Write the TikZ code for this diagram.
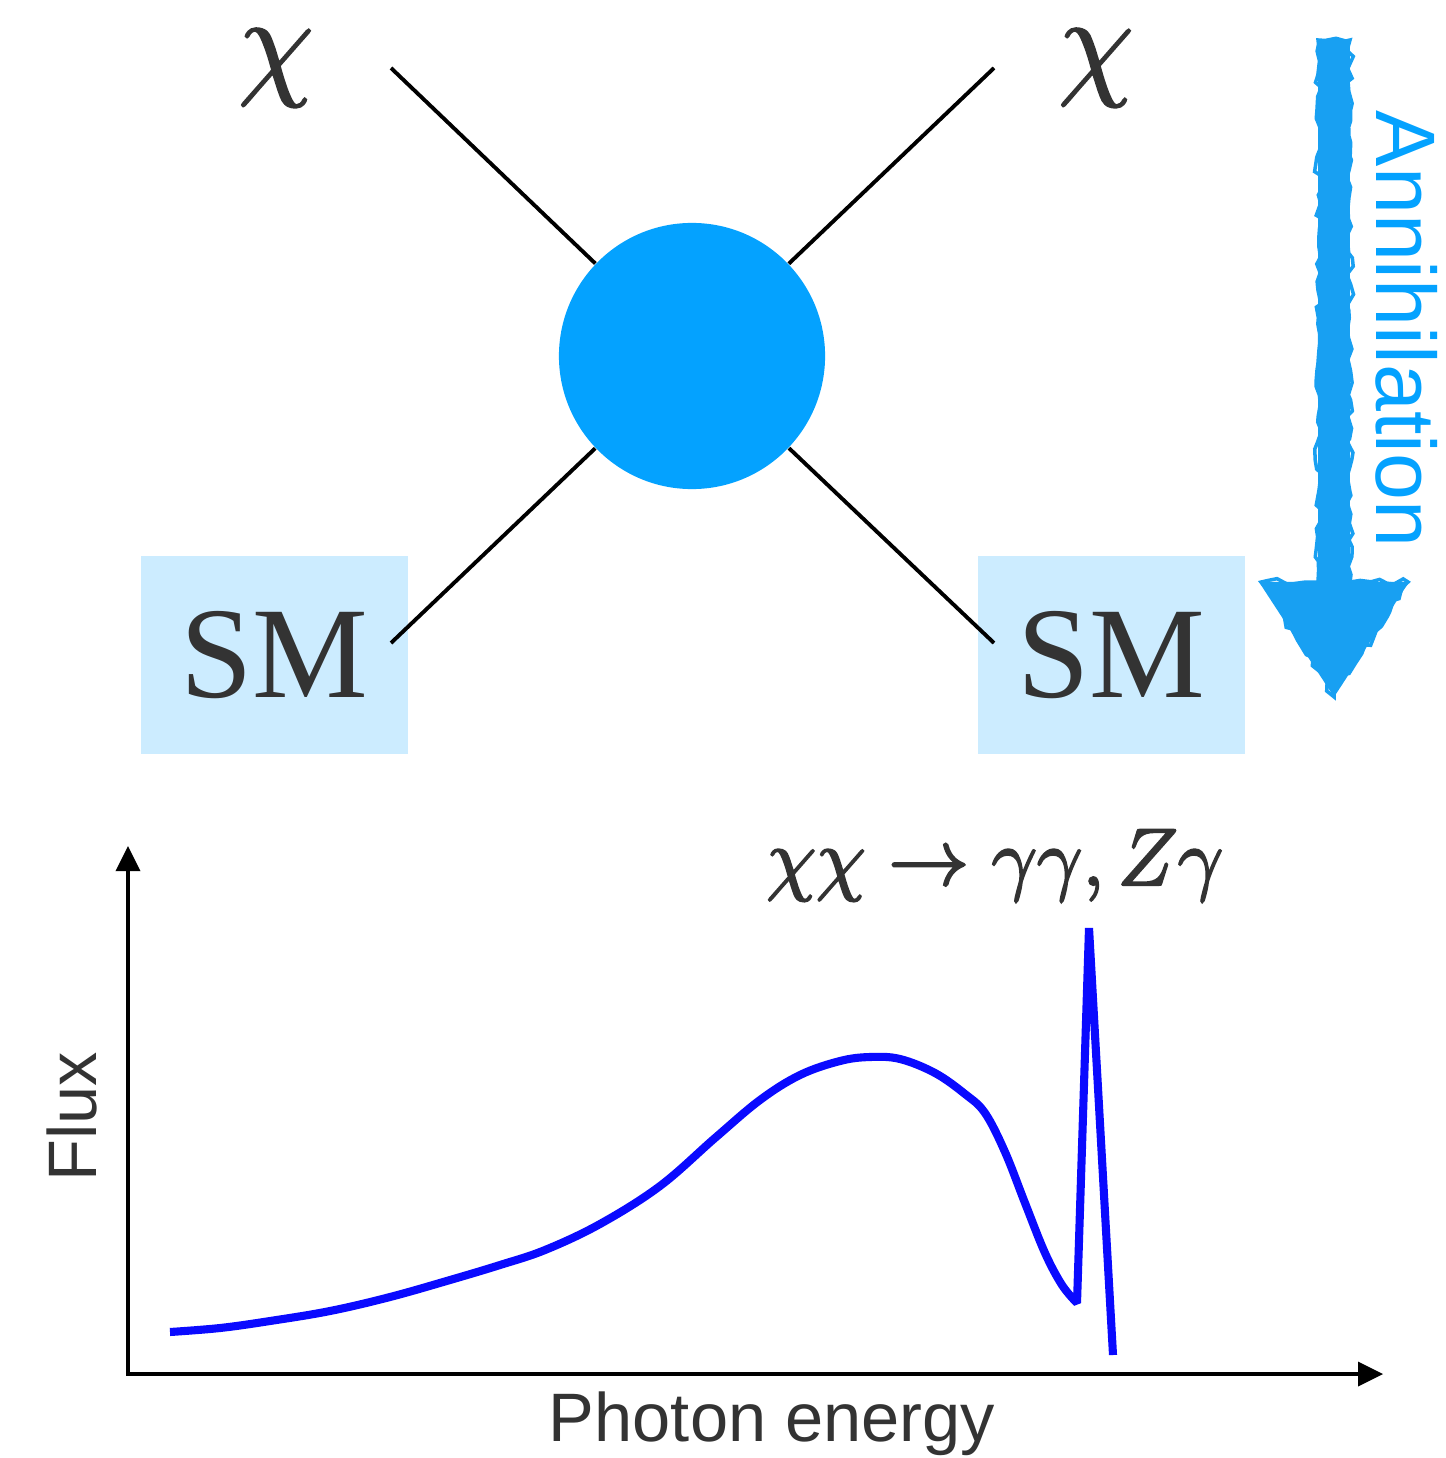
\RequirePackage{fix-cm}
\documentclass[tikz,border=0pt]{standalone}
\usepackage{fontspec}
\setmainfont{Liberation Serif}
\setsansfont{Liberation Sans}
\usepackage{amsmath}
\usetikzlibrary{arrows.meta, positioning, calc, decorations.pathmorphing}

\definecolor{blobblue}{RGB}{4,162,255}
\definecolor{smfill}{RGB}{204,236,255}
\definecolor{annblue}{RGB}{24,160,242}
\definecolor{textgray}{RGB}{51,51,51}
\definecolor{specblue}{RGB}{10,10,255}

% slightly heavier math glyphs
\newcommand{\heavier}{\special{pdf:code 2 Tr 0.6 w}}

\begin{document}
\begin{tikzpicture}[
    x=0.01cm, y=-0.01cm,
    leg/.style={line width=1.1pt, black},
    smbox/.style={fill=smfill, minimum width=2.67cm, minimum height=1.98cm,
                  inner sep=0pt, font=\fontsize{37}{40}\selectfont, text=textgray},
    chilabel/.style={inner sep=0pt, font=\fontsize{35}{40}\selectfont, text=textgray},
    axis/.style={line width=1.15pt,
                 {Triangle[length=0.25cm,width=0.25cm,line width=0pt]}-{Triangle[length=0.25cm,width=0.25cm,line width=0pt]}},
    spec/.style={line width=2.3pt, specblue, line join=bevel},
    lab/.style={font=\sffamily\fontsize{19.5}{22}\selectfont, text=textgray, inner sep=0pt},
    chalk/.style={line width=0.32cm, annblue,
                  -{Triangle[length=1.15cm,width=1.5cm,line width=0pt]}},
    rough/.style={annblue, line width=1pt, decorate,
                  decoration={random steps, segment length=2.5pt, amplitude=1pt}}
]
\useasboundingbox (0,0) rectangle (1445,1458);

\node[smbox] (smL) at (274.5,655) {SM};
\node[smbox] (smR) at (1111.5,655) {SM};

% annihilation vertex
\node[circle, fill=blobblue, minimum size=2.66cm, inner sep=0pt] (blob) at (692,356) {};
\coordinate (tl) at (391,68);
\coordinate (tr) at (994,68);
\coordinate (bl) at (391,643);
\coordinate (br) at (994,643);
\draw[leg] (tl) -- (blob);
\draw[leg] (tr) -- (blob);
\draw[leg] (bl) -- (blob);
\draw[leg] (br) -- (blob);

\node[chilabel] (chiL) at (276,68) {\heavier$\chi$};
\node[chilabel] (chiR) at (1096,68) {\heavier$\chi$};

% annihilation arrow
\coordinate (annTop) at (1334,40);
\coordinate (annTip) at (1334,697);
\draw[chalk] (annTop) -- (annTip);
\draw[rough] ($(annTop)+(-16,0)$) -- ($(annTop)+(16,0)$) -- (1350,582) -- (1408,582)
    -- (annTip) -- (1261,582) -- (1318,582) -- cycle;
\node[font=\sffamily\fontsize{24}{28}\selectfont, text=blobblue, rotate=-90,
      anchor=base, inner sep=0pt] (ann) at (1376,329) {Annihilation};

% spectrum
\coordinate (origin) at (128,1374);
\coordinate (ytop) at (128,846);
\coordinate (xend) at (1383,1374);
\draw[axis] (ytop) -- (origin) -- (xend);
\node[lab, rotate=90] (flux) at (72,1117) {Flux};
\node[lab, anchor=base] (energy) at (772,1441) {Photon energy};

\draw[spec] plot[smooth, tension=0.6] coordinates {
    (170,1332) (220,1328) (270,1321) (330,1311) (390,1297) (450,1280)
    (500,1265) (545,1250) (600,1224) (660,1186) (715,1138) (760,1100)
    (800,1075) (840,1061) (870,1057) (900,1059) (935,1073) (965,1094)
    (985,1113) (1005,1152) (1025,1203) (1045,1253) (1062,1285) (1077,1303)}
    -- (1089,928) -- (1113,1355);

\node[inner sep=0pt, font=\fontsize{23}{27}\selectfont, text=textgray, anchor=base]
    (proc) at (995,885) {\heavier$\chi\chi \rightarrow \gamma\gamma, Z\gamma$};
\end{tikzpicture}
\end{document}
